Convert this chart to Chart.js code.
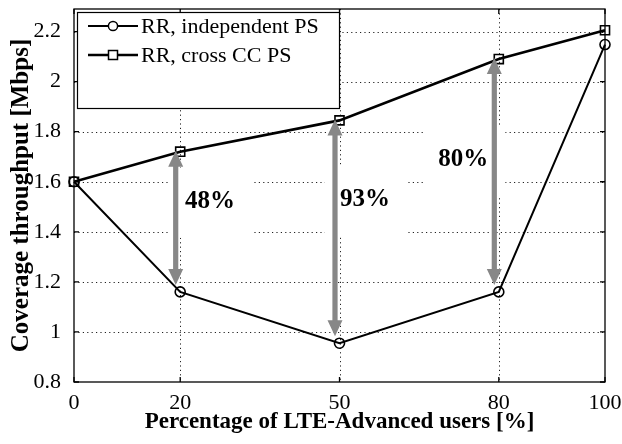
<!DOCTYPE html>
<html>
<head>
<meta charset="utf-8">
<script src="https://cdn.jsdelivr.net/npm/chart.js@4.4.0/dist/chart.umd.min.js"></script>
<style>
  html, body { margin: 0; padding: 0; background: #fff; }
  #wrap { width: 622px; height: 444px; }
</style>
</head>
<body>
<div id="wrap"><canvas id="c" width="622" height="444"></canvas></div>
<script>
// Coverage throughput vs. share of LTE-Advanced users
const lteShare = [0, 20, 50, 80, 100];
const independentPS = [1.6, 1.16, 0.955, 1.16, 2.148];
const crossCCPS = [1.6, 1.72, 1.845, 2.09, 2.205];

const xTickValues = [0, 20, 50, 80, 100];
const yTickValues = [0.8, 1.0, 1.2, 1.4, 1.6, 1.8, 2.0, 2.2];

const seriesNames = ['RR, independent PS', 'RR, cross CC PS'];

// Gain annotations: arrows at these shares, labels placed in data units
const gainAt = [20, 50, 80];
const gainText = ['48%', '93%', '80%'];
const gainLabelX = [25.6, 54.8, 73.3];
const gainLabelY = [1.52, 1.53, 1.69];

const SERIF = "'Liberation Serif', 'Times New Roman', Times, serif";
const GREY = '#878787';

function pts(xs, ys) { return xs.map((x, i) => ({ x: x, y: ys[i] })); }

const backdrop = {
  id: 'backdrop',
  beforeDatasetsDraw(chart) {
    const { ctx, chartArea: a, scales: { x, y } } = chart;
    ctx.save();
    // dotted grid
    ctx.strokeStyle = '#222';
    ctx.lineWidth = 1;
    ctx.setLineDash([1.2, 3.2]);
    yTickValues.forEach(v => {
      if (v <= y.min) return;
      const py = Math.round(y.getPixelForValue(v)) + 0.5;
      ctx.beginPath(); ctx.moveTo(a.left, py); ctx.lineTo(a.right, py); ctx.stroke();
    });
    xTickValues.forEach(v => {
      if (v <= x.min || v >= x.max) return;
      const px = Math.round(x.getPixelForValue(v)) + 0.5;
      ctx.beginPath(); ctx.moveTo(px, a.top); ctx.lineTo(px, a.bottom); ctx.stroke();
    });
    ctx.setLineDash([]);
    // white backgrounds behind the gain labels
    ctx.fillStyle = '#fff';
    gainText.forEach((t, i) => {
      const cx = x.getPixelForValue(gainLabelX[i]);
      const cy = y.getPixelForValue(gainLabelY[i]);
      ctx.fillRect(cx - 40, cy - 34, 82, 70);
    });
    // frame with inward ticks
    ctx.strokeStyle = '#000';
    ctx.lineWidth = 1.3;
    ctx.strokeRect(a.left, a.top, a.right - a.left, a.bottom - a.top);
    ctx.beginPath();
    yTickValues.forEach(v => {
      const py = y.getPixelForValue(v);
      ctx.moveTo(a.left, py); ctx.lineTo(a.left + 5, py);
      ctx.moveTo(a.right, py); ctx.lineTo(a.right - 5, py);
    });
    xTickValues.forEach(v => {
      const px = x.getPixelForValue(v);
      ctx.moveTo(px, a.bottom); ctx.lineTo(px, a.bottom - 5);
      ctx.moveTo(px, a.top); ctx.lineTo(px, a.top + 5);
    });
    ctx.stroke();
    ctx.restore();
  },
  afterDatasetsDraw(chart) {
    const { ctx, chartArea: a, scales: { x, y } } = chart;
    ctx.save();
    // gain arrows between the two curves
    gainAt.forEach((v, i) => {
      const idx = lteShare.indexOf(v);
      const px = x.getPixelForValue(v) - 4.5;
      const top = y.getPixelForValue(crossCCPS[idx]) - 1;
      const bot = y.getPixelForValue(independentPS[idx]) - 7;
      const hw = 7.5, hl = 16, sw = 2.6;
      ctx.fillStyle = GREY;
      ctx.fillRect(px - sw, top + hl - 1, sw * 2, bot - top - 2 * hl + 2);
      ctx.beginPath();
      ctx.moveTo(px, top); ctx.lineTo(px + hw, top + hl); ctx.lineTo(px - hw, top + hl); ctx.closePath();
      ctx.fill();
      ctx.beginPath();
      ctx.moveTo(px, bot); ctx.lineTo(px + hw, bot - hl); ctx.lineTo(px - hw, bot - hl); ctx.closePath();
      ctx.fill();
    });
    // gain labels
    ctx.fillStyle = '#000';
    ctx.font = 'bold 25px ' + SERIF;
    ctx.textAlign = 'center';
    ctx.textBaseline = 'middle';
    gainText.forEach((t, i) => {
      ctx.fillText(t, x.getPixelForValue(gainLabelX[i]), y.getPixelForValue(gainLabelY[i]));
    });
    // legend box
    const lx = a.left + 3, ly = a.top + 3, lw = 262, lh = 96;
    ctx.fillStyle = '#fff';
    ctx.fillRect(lx, ly, lw, lh);
    ctx.strokeStyle = '#000';
    ctx.lineWidth = 1.2;
    ctx.strokeRect(lx + 0.5, ly + 0.5, lw, lh);
    const rows = [ly + 14, ly + 43];
    ctx.font = '22px ' + SERIF;
    ctx.textAlign = 'left';
    ctx.textBaseline = 'middle';
    rows.forEach((ry, i) => {
      ctx.strokeStyle = '#000';
      ctx.lineWidth = i === 0 ? 2 : 2.4;
      ctx.beginPath(); ctx.moveTo(lx + 11, ry); ctx.lineTo(lx + 61, ry); ctx.stroke();
      ctx.lineWidth = 1.5;
      ctx.fillStyle = '#fff';
      ctx.beginPath();
      if (i === 0) ctx.arc(lx + 36, ry, 4.6, 0, Math.PI * 2);
      else ctx.rect(lx + 31.5, ry - 4.5, 9, 9);
      ctx.fill(); ctx.stroke();
      ctx.fillStyle = '#000';
      ctx.fillText(seriesNames[i], lx + 64, ry + 1);
    });
    ctx.restore();
  }
};

new Chart(document.getElementById('c'), {
  type: 'line',
  data: {
    datasets: [
      {
        label: seriesNames[0],
        data: pts(lteShare, independentPS),
        borderColor: '#000',
        borderWidth: 2,
        pointStyle: 'circle',
        pointRadius: 5,
        pointBorderWidth: 1.6,
        pointBorderColor: '#000',
        pointBackgroundColor: 'rgba(0,0,0,0)',
        tension: 0,
        clip: false
      },
      {
        label: seriesNames[1],
        data: pts(lteShare, crossCCPS),
        borderColor: '#000',
        borderWidth: 2.6,
        pointStyle: 'rect',
        pointRadius: 6.4,
        pointBorderWidth: 1.6,
        pointBorderColor: '#000',
        pointBackgroundColor: 'rgba(0,0,0,0)',
        tension: 0,
        clip: false
      }
    ]
  },
  options: {
    responsive: false,
    animation: false,
    devicePixelRatio: 1,
    layout: { padding: { top: 9, right: 17, left: 0, bottom: 0 } },
    plugins: { legend: { display: false }, tooltip: { enabled: false } },
    scales: {
      x: {
        type: 'linear',
        min: 0, max: 100,
        afterBuildTicks: s => { s.ticks = xTickValues.map(v => ({ value: v })); },
        afterFit: s => { s.height = 62; s.paddingLeft = 0; s.paddingRight = 0; },
        grid: { display: false },
        border: { display: false },
        ticks: {
          color: '#000', padding: 0, maxRotation: 0, autoSkip: false,
          font: { family: SERIF, size: 22 },
          callback: v => String(v)
        },
        title: {
          display: true,
          text: 'Percentage of LTE-Advanced users [%]',
          color: '#000',
          font: { family: SERIF, size: 23, weight: 'bold' },
          padding: { top: 0, bottom: 8 }
        }
      },
      y: {
        type: 'linear',
        min: 0.8, max: 2.29,
        afterBuildTicks: s => { s.ticks = yTickValues.map(v => ({ value: v })); },
        afterFit: s => { s.width = 74; s.paddingTop = 0; s.paddingBottom = 0; },
        grid: { display: false },
        border: { display: false },
        ticks: {
          color: '#000', padding: 5, autoSkip: false,
          font: { family: SERIF, size: 22 },
          callback: v => String(+v.toFixed(1))
        },
        title: {
          display: true,
          text: 'Coverage throughput [Mbps]',
          color: '#000',
          font: { family: SERIF, size: 25, weight: 'bold' },
          padding: { top: 7, bottom: 0 }
        }
      }
    }
  },
  plugins: [backdrop]
});
</script>
</body>
</html>
